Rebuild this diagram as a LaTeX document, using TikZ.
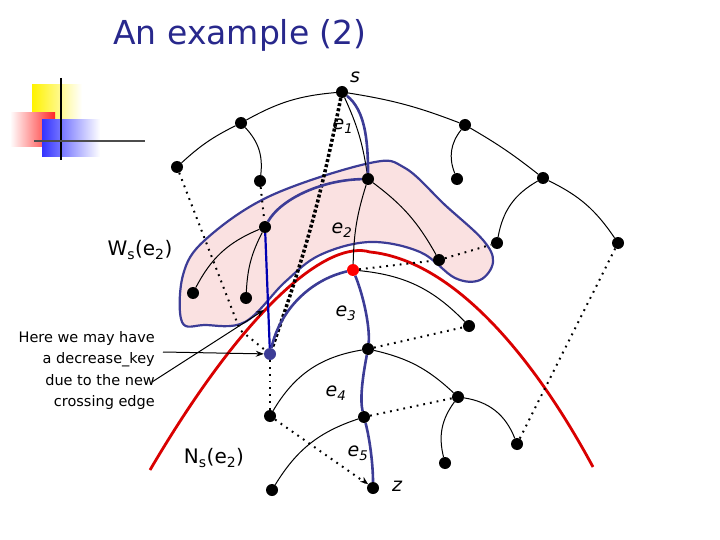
\documentclass[tikz,border=0pt]{standalone}
\usepackage{fontspec}
\setmainfont{DejaVu Sans}
\usetikzlibrary{arrows.meta}
\definecolor{navy}{RGB}{40,40,140}
\definecolor{pblue}{RGB}{60,60,150}
\definecolor{pinkfill}{RGB}{250,225,225}
\begin{document}
\begin{tikzpicture}[x=1pt,y=-1pt,
  dot/.style={circle,fill=black,inner sep=0pt,minimum size=12pt},
  tedge/.style={black,line width=1pt},
  dedge/.style={black,line width=2pt,dash pattern=on 1.8pt off 5pt},
  bpath/.style={pblue,line width=2.6pt},
  lab/.style={font=\fontsize{19}{19}\selectfont\itshape}]
\useasboundingbox (0,0) rectangle (720,540);
% logo
\shade[left color=yellow!90!orange,right color=white] (32,85) rectangle (82,120);
\shade[left color=white,right color=red!85] (10,113) rectangle (55,147);
\shade[left color=blue!80,right color=white] (42,120) rectangle (100,157);
\draw[black,line width=1.5pt] (61,78) -- (61,160);
\draw[black!70,line width=1.5pt] (34,141) -- (145,141);
% title
\node[navy,font=\fontsize{33}{33}\selectfont] (title) at (240,35) {An example (2)};
% pink region
\filldraw[fill=pinkfill,draw=pblue,line width=2.2pt] plot[smooth cycle,tension=0.6] coordinates {
 (182,322) (183,275) (205,240) (270,196) (370,163) (405,168) (445,205) (483,240) (493,262) (480,280) (455,278) (420,252) (370,242) (320,255) (285,282) (245,322) (205,325)};
% red cut
\draw[red!85!black,line width=2.8pt] (150,470) .. controls (250,300) and (330,240) .. (370,252) .. controls (450,260) and (530,350) .. (593,467);
% nodes
\node[dot] (s) at (342,92) {};
\node[dot] (a1) at (241,123) {};
\node[dot] (a2) at (177,167) {};
\node[dot] (a3) at (260,181) {};
\node[dot] (b1) at (465,125) {};
\node[dot] (b2) at (457,179) {};
\node[dot] (b3) at (543,178) {};
\node[dot] (b4) at (497,243) {};
\node[dot] (b5) at (618,243) {};
\node[dot] (c) at (368,179) {};
\node[dot] (c1) at (265,227) {};
\node[dot] (c2) at (439,260) {};
\node[dot] (c3) at (193,293) {};
\node[dot] (c4) at (246,298) {};
\node[dot,fill=red] (r) at (353,270) {};
\node[dot,fill=pblue] (d) at (270,354) {};
\node[dot] (d1) at (469,326) {};
\node[dot] (f) at (368,349) {};
\node[dot] (f1) at (270,416) {};
\node[dot] (g) at (458,397) {};
\node[dot] (h) at (364,417) {};
\node[dot] (g1) at (445,463) {};
\node[dot] (g2) at (517,444) {};
\node[dot] (h1) at (272,490) {};
\node[dot] (z) at (373,488) {};
% solid tree edges
\draw[tedge] (s) to[bend right=12] (a1);
\draw[tedge] (a1) to[bend right=8] (a2);
\draw[tedge] (a1) to[bend left=25] (a3);
\draw[tedge] (s) to[bend left=6] (b1);
\draw[tedge] (b1) to[bend right=30] (b2);
\draw[tedge] (b1) to[bend left=4] (b3);
\draw[tedge] (b3) to[bend right=25] (b4);
\draw[tedge] (b3) to[bend left=15] (b5);
\draw[tedge] (s) to[bend left=8] (c);
\draw[tedge] (c) to[bend left=12] (c2);
\draw[tedge] (c) to[bend right=8] (r);
\draw[tedge] (c1) to[bend right=20] (c3);
\draw[tedge] (c1) to[bend right=12] (c4);
\draw[tedge] (r) to[bend left=20] (d1);
\draw[tedge] (f) to[bend right=25] (f1);
\draw[tedge] (f) to[bend left=15] (g);
\draw[tedge] (g) to[bend right=25] (g1);
\draw[tedge] (g) to[bend left=30] (g2);
\draw[tedge] (h) to[bend right=20] (h1);
% dotted edges
\draw[dedge] (a2) -- (240,330) -- (d);
\draw[dedge] (d) -- (f1);
\draw[dedge] (f1) -- (z);
\draw[black,line width=1pt,-{Stealth[length=8pt]}] (364,481) -- (z);
\draw[dedge] (a3) -- (c1);
\draw[dedge] (r) -- (c2) -- (b4);
\draw[dedge] (f) -- (d1);
\draw[dedge] (h) -- (g);
\draw[dedge] (g2) -- (b5);
\draw[black,line width=3.5pt,dash pattern=on 3pt off 2.2pt] (s) to[bend left=4] (d);
% blue shortest path
\draw[bpath] (s) .. controls (365,110) and (368,140) .. (c);
\draw[bpath] (c) .. controls (320,180) and (280,200) .. (c1);
\draw[blue!70!black,line width=2.2pt] (c1) -- (d);
\draw[bpath] (r) .. controls (310,280) and (280,310) .. (d);
\draw[bpath] (r) .. controls (365,300) and (370,330) .. (f) .. controls (362,380) and (360,400) .. (h) .. controls (370,440) and (373,465) .. (z);
% labels
\node[lab] (ls) at (355,77) {s};
\node[lab] (le1) at (343,126) {e\textsubscript{1}};
\node[lab] (le2) at (342,230) {e\textsubscript{2}};
\node[lab] (le3) at (346,313) {e\textsubscript{3}};
\node[lab] (le4) at (336,393) {e\textsubscript{4}};
\node[lab] (le5) at (358,453) {e\textsubscript{5}};
\node[lab] (lz) at (397,486) {z};
\node[font=\fontsize{20}{20}\selectfont] (ws) at (140,250) {W\textsubscript{s}(e\textsubscript{2})};
\node[font=\fontsize{20}{20}\selectfont] (ns) at (214,458) {N\textsubscript{s}(e\textsubscript{2})};
\node[font=\fontsize{14.5}{21.5}\selectfont,align=right,anchor=north east,inner sep=0pt] (note) at (155,331) {Here we may have\\a decrease\_key\\due to the new\\crossing edge};
\coordinate (n1) at (163,352);
\coordinate (n2) at (152,382);
\coordinate (t2) at (264,310);
\draw[black,line width=1pt,-{Stealth[length=8pt]}] (n1) -- (d);
\draw[black,line width=1pt,-{Stealth[length=8pt]}] (n2) -- (t2);
\end{tikzpicture}
\end{document}
